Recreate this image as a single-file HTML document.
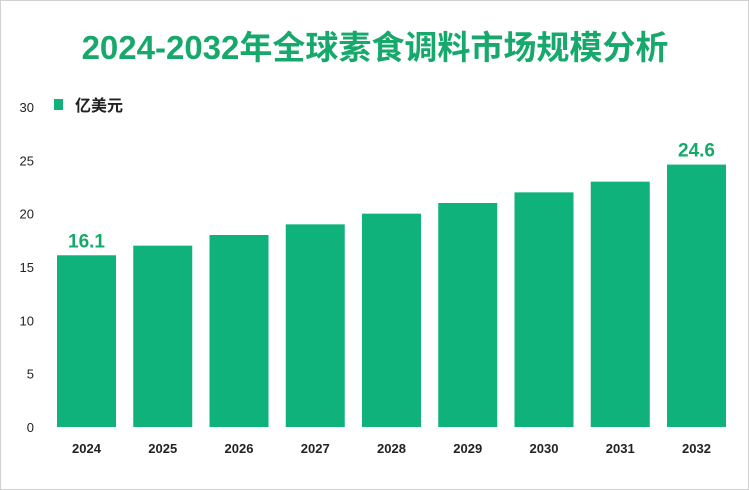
<!DOCTYPE html>
<html><head><meta charset="utf-8">
<style>
body{margin:0;background:#fff;}
#wrap{position:relative;width:749px;height:490px;overflow:hidden;background:#fff;box-sizing:border-box;border:1px solid #d0d0d0;}
svg text{font-family:"Liberation Sans","Noto Sans CJK SC",sans-serif;}
</style></head>
<body>
<div id="wrap">
<svg id="chart" width="749" height="490">
<text x="374" y="58" text-anchor="middle" font-size="33" font-weight="bold" fill="#17a86c">2024-2032年全球素食调料市场规模分析</text>
<rect x="53" y="98" width="9" height="11" fill="#10b27c"/>
<text x="74" y="110" font-size="16" font-weight="bold" fill="#222">亿美元</text>
<g id="yaxis"></g><g id="bars"></g>
</svg>
</div>
<script>
const categories=["2024","2025","2026","2027","2028","2029","2030","2031","2032"];
const values=[16.1,17,18,19,20,21,22,23,24.6];
const yTicks=[0,5,10,15,20,25,30];
const labeled=[0,8];
const svg=document.getElementById('chart');
const NS="http://www.w3.org/2000/svg";
const y0=426,pxPerUnit=320/30;
function yScale(v){return y0-v*pxPerUnit;}
function xScale(i){return 56+i*76.25;}
const bw=59;
const yg=document.getElementById('yaxis');
yTicks.forEach(t=>{
 const tx=document.createElementNS(NS,'text');
 tx.setAttribute('x',33);tx.setAttribute('y',yScale(t)+5);
 tx.setAttribute('text-anchor','end');tx.setAttribute('font-size','13');tx.setAttribute('fill','#222');
 tx.textContent=t;
 
 
 yg.appendChild(tx);
});
const bg=document.getElementById('bars');
categories.forEach((c,i)=>{
 const r=document.createElementNS(NS,'rect');
 const x=xScale(i),y=yScale(values[i]);
 r.setAttribute('x',x);r.setAttribute('y',y);r.setAttribute('width',bw);r.setAttribute('height',y0-y);
 r.setAttribute('fill','#10b27c');
 
 
 bg.appendChild(r);
 const t=document.createElementNS(NS,'text');
 t.setAttribute('x',x+bw/2);t.setAttribute('y',452);t.setAttribute('text-anchor','middle');
 t.setAttribute('font-size','13');t.setAttribute('font-weight','bold');t.setAttribute('fill','#222');
 t.textContent=c;
 
 
 bg.appendChild(t);
 if(labeled.includes(i)){
  const v=document.createElementNS(NS,'text');
  v.setAttribute('x',x+bw/2);v.setAttribute('y',y-8);v.setAttribute('text-anchor','middle');
  v.setAttribute('font-size','19');v.setAttribute('font-weight','bold');v.setAttribute('fill','#17a86c');
  v.textContent=values[i];
  
  
  bg.appendChild(v);
 }
});
</script>
</body></html>
